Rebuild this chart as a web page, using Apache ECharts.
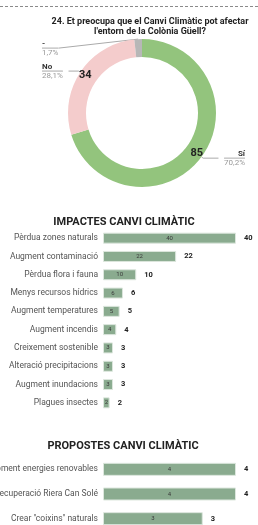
<!DOCTYPE html>
<html>
<head>
<meta charset="utf-8">
<script src="https://cdn.jsdelivr.net/npm/echarts@6/dist/echarts.min.js"></script>
<style>
html,body{margin:0;padding:0;background:#fff;}
#dash{position:absolute;left:0;top:6px;width:258px;border-top:1px dashed #8a8a8a;}
#chart{width:258px;height:525px;}
</style>
</head>
<body>
<div id="dash"></div>
<div id="chart"></div>
<script>
// pregunta 24
var donutNames = ['Sí', 'No', '-'];
var donutValues = [85, 34, 2];
var donutColors = ['#93c47d', '#f4cccc', '#b7b7b7'];

// impactes
var impactCats = ['Pèrdua zones naturals', 'Augment contaminació', 'Pèrdua flora i fauna', 'Menys recursos hídrics',
	'Augment temperatures', 'Augment incendis', 'Creixement sostenible', 'Alteració precipitacions',
	'Augment inundacions', 'Plagues insectes'];
var impactValues = [40, 22, 10, 6, 5, 4, 3, 3, 3, 2];

// propostes
var propCats = ['Foment energies renovables', 'Recuperació Riera Can Solé', 'Crear "coixins" naturals'];
var propValues = [4, 4, 3];

var font = 'Roboto, "Noto Sans", sans-serif';
var barColor = '#8aab8f';

var total = 0;
for (var i = 0; i < donutValues.length; i++) total += donutValues[i];

var donutData = donutNames.map(function (n, i) {
	return {name: n, value: donutValues[i], itemStyle: {color: donutColors[i]}};
});

function barSeries(idx, values, bw) {
	return [{
		type: 'bar',
		xAxisIndex: idx,
		yAxisIndex: idx,
		data: values,
		barWidth: bw,
		itemStyle: {color: barColor, borderColor: '#dde7de', borderWidth: 1},
		label: {show: true, position: 'inside', fontSize: 6, color: '#3a3a3a', fontFamily: font},
		silent: true,
		z: 2
	}, {
		type: 'bar',
		xAxisIndex: idx,
		yAxisIndex: idx,
		data: values,
		barWidth: bw,
		barGap: '-100%',
		itemStyle: {color: 'transparent'},
		label: {show: true, position: 'right', distance: 8, fontSize: 7.5, fontWeight: 'bold', color: '#222', fontFamily: font},
		silent: true,
		z: 1
	}];
}

function catAxis(idx, cats) {
	return {
		type: 'category', gridIndex: idx, data: cats, inverse: true,
		axisLine: {show: false}, axisTick: {show: false},
		axisLabel: {fontSize: 8.5, color: '#555', margin: 5, fontFamily: font}
	};
}
function valAxis(idx, max) {
	return {type: 'value', gridIndex: idx, min: 0, max: max, show: false};
}

var option = {
	animation: false,
	textStyle: {fontFamily: font},
	title: [{
		text: '24. Et preocupa que el Canvi Climàtic pot afectar\nl\'entorn de la Colònia Güell?',
		left: 145, top: 12, textAlign: 'center',
		textStyle: {fontSize: 9, fontWeight: 'bold', color: '#222', lineHeight: 10, fontFamily: font}
	}, {
		text: 'IMPACTES CANVI CLIMÀTIC',
		left: 119, top: 212, textAlign: 'center',
		textStyle: {fontSize: 11, fontWeight: 'bold', color: '#222', fontFamily: font}
	}, {
		text: 'PROPOSTES CANVI CLIMÀTIC',
		left: 118, top: 436, textAlign: 'center',
		textStyle: {fontSize: 11, fontWeight: 'bold', color: '#222', fontFamily: font}
	}],
	grid: [
		{left: 103, width: 133, top: 229, height: 183, outerBoundsMode: 'none'},
		{left: 103, width: 133, top: 457, height: 74, outerBoundsMode: 'none'}
	],
	xAxis: [valAxis(0, 40), valAxis(1, 4)],
	yAxis: [catAxis(0, impactCats), catAxis(1, propCats)],
	series: [{
		type: 'pie',
		left: 32, top: 0, width: 223, height: 230,
		center: [110, 113],
		radius: [56, 74],
		startAngle: 90,
		clockwise: true,
		silent: true,
		data: donutData,
		label: {
			show: true,
			position: 'outside',
			alignTo: 'edge',
			edgeDistance: 10,
			fontFamily: font,
			formatter: function (p) {
				var pct = (p.value / total * 100).toFixed(1).replace('.', ',') + '%';
				return '{n|' + p.name + '}\n{hr|}\n{p|' + pct + '}';
			},
			rich: {
				n: {fontSize: 8, fontWeight: 'bold', color: '#333', lineHeight: 9, fontFamily: font},
				hr: {borderColor: '#aaa', width: '100%', borderWidth: 0.6, height: 0},
				p: {fontSize: 8, color: '#999', lineHeight: 9, fontFamily: font}
			}
		},
		labelLine: {show: true, length: 2, length2: 10, lineStyle: {color: '#aaa', width: 1}},
		// la etiqueta petita baixa una mica, com a l'original
		labelLayout: function (p) {
			if (p.dataIndex !== 2) return {};
			var pts = p.labelLinePoints;
			var r = p.labelRect;
			var shift = 11;
			return {
				dy: shift,
				labelLinePoints: [pts[0], pts[0], [r.x + r.width, r.y + r.height / 2 + shift]]
			};
		}
	}, {
		type: 'pie',
		left: 32, top: 0, width: 223, height: 230,
		center: [110, 113],
		radius: [56, 74],
		startAngle: 90,
		clockwise: true,
		silent: true,
		data: donutNames.map(function (n, i) {
			return {name: n, value: donutValues[i], itemStyle: {color: 'transparent'}, label: {show: i < 2}};
		}),
		label: {position: 'inside', formatter: '{c}', fontSize: 11, fontWeight: 'bold', color: '#222', fontFamily: font},
		labelLine: {show: false}
	}].concat(barSeries(0, impactValues, 11), barSeries(1, propValues, 13))
};

var chart = echarts.init(document.getElementById('chart'));
chart.setOption(option);
</script>
</body>
</html>
